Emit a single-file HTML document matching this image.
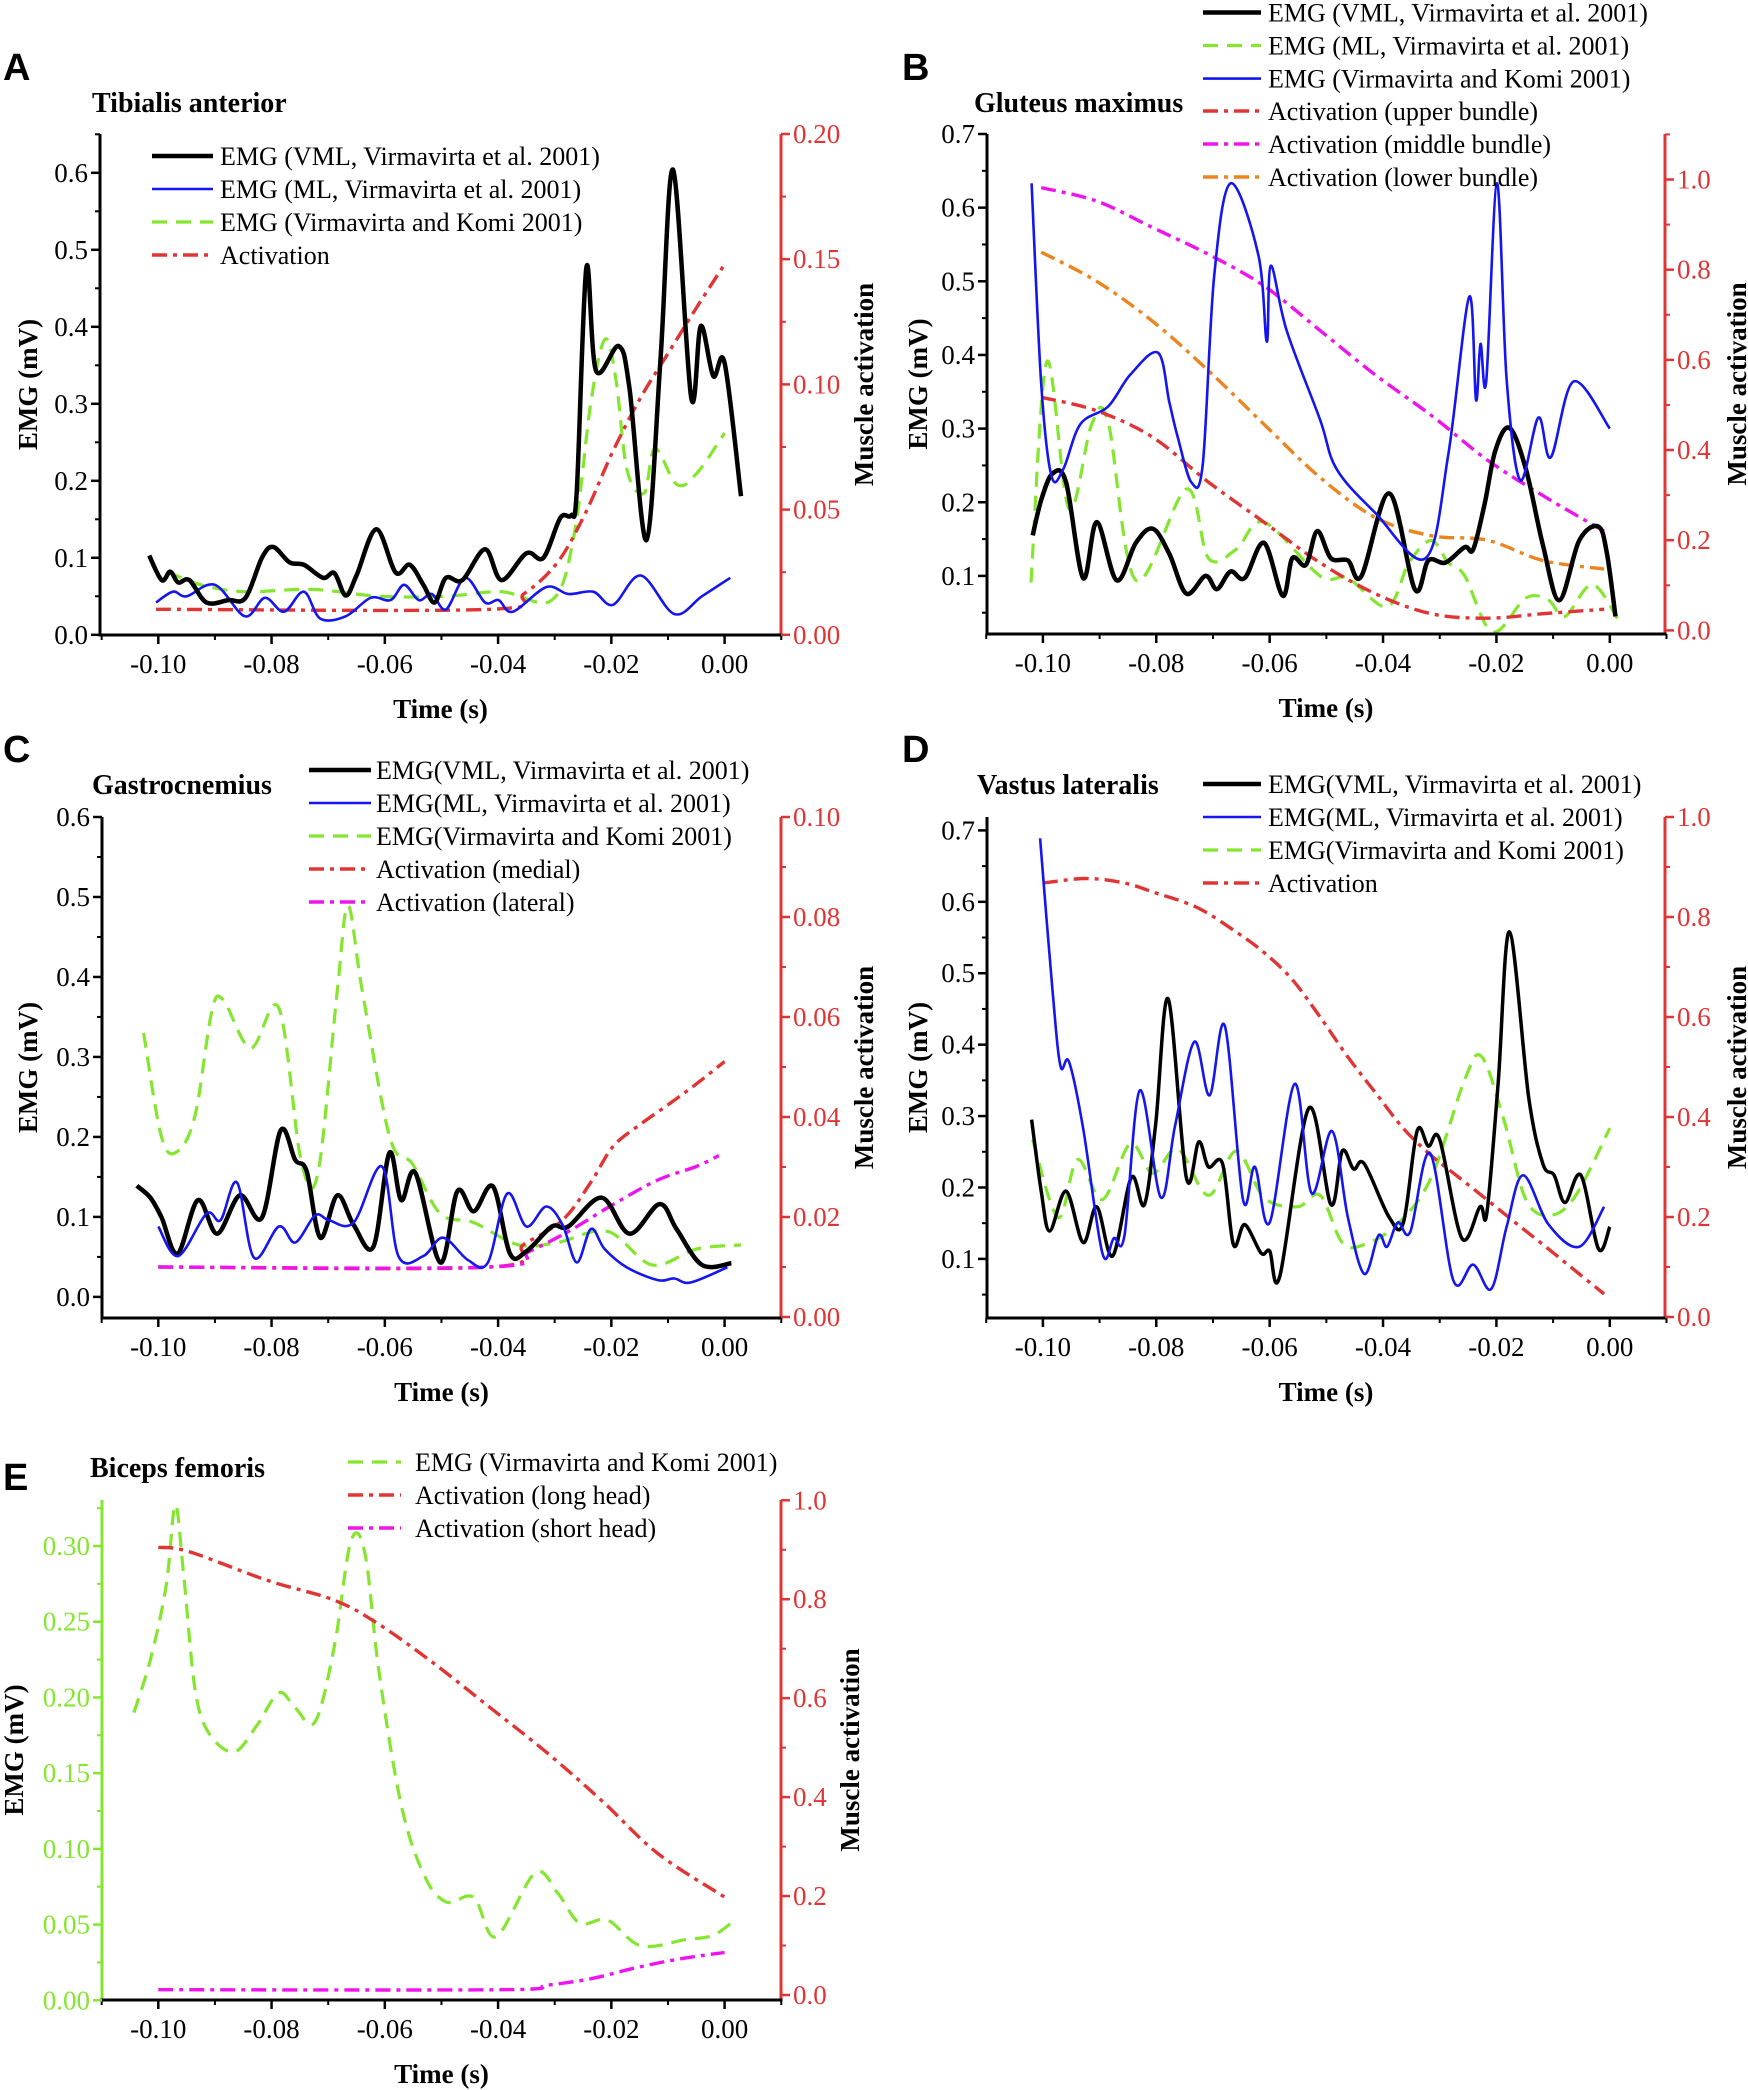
<!DOCTYPE html>
<html><head><meta charset="utf-8"><style>
html,body{margin:0;padding:0;background:#fff}
svg{display:block}
text{font-family:"Liberation Serif",serif}
</style></head><body>
<svg id="fig" width="1748" height="2090" viewBox="0 0 1748 2090" xmlns="http://www.w3.org/2000/svg"></svg>
<script>
// ---------- Panel A: Tibialis anterior ----------
const aVmlT=[-0.1016,-0.0994,-0.0979,-0.0965,-0.0945,-0.0915,-0.0876,-0.0846,-0.0817,-0.0797,-0.0768,-0.0743,-0.0709,-0.0689,-0.0669,-0.0650,-0.0615,-0.0581,-0.0556,-0.0532,-0.0512,-0.0492,-0.0463,-0.0423,-0.0394,-0.0350,-0.0320,-0.0290,-0.0271,-0.0261,-0.0244,-0.0227,-0.0187,-0.0168,-0.0138,-0.0113,-0.0091,-0.0059,-0.0042,-0.0020,0.0000,0.0029];
const aVmlV=[0.103,0.071,0.082,0.068,0.071,0.042,0.045,0.048,0.100,0.114,0.094,0.091,0.074,0.080,0.051,0.077,0.137,0.081,0.091,0.065,0.042,0.074,0.071,0.111,0.071,0.106,0.100,0.152,0.155,0.187,0.477,0.343,0.375,0.320,0.123,0.360,0.604,0.308,0.401,0.336,0.353,0.180];
const aMlT=[-0.1004,-0.0974,-0.095,-0.090,-0.0847,-0.0812,-0.0778,-0.0743,-0.0714,-0.0669,-0.0625,-0.059,-0.0566,-0.054,-0.0517,-0.0492,-0.0458,-0.0423,-0.0399,-0.0374,-0.0315,-0.0276,-0.0232,-0.0197,-0.0148,-0.0089,-0.004,0.0010];
const aMlV=[0.042,0.056,0.050,0.065,0.024,0.048,0.030,0.056,0.021,0.024,0.048,0.045,0.065,0.045,0.053,0.033,0.074,0.042,0.045,0.030,0.062,0.053,0.056,0.039,0.077,0.027,0.050,0.074];
const aVkT=[-0.0984,-0.0925,-0.0847,-0.0728,-0.061,-0.0492,-0.0394,-0.0305,-0.0266,-0.0236,-0.0211,-0.0192,-0.0172,-0.0142,-0.0123,-0.0084,-0.0049,0.000];
const aVkV=[0.082,0.065,0.056,0.059,0.050,0.050,0.056,0.045,0.129,0.303,0.384,0.332,0.213,0.184,0.242,0.195,0.210,0.262];
const aActT=[-0.1004,-0.0413,-0.0354,-0.0295,-0.0246,-0.0197,-0.0148,-0.0099,-0.005,0.000];
const aActV=[0.0102,0.0102,0.0164,0.0289,0.0485,0.0734,0.0948,0.1127,0.1305,0.148];
// ---------- Panel B: Gluteus maximus ----------
const bVmlT=[-0.1018,-0.1003,-0.0983,-0.0959,-0.0929,-0.0905,-0.087,-0.0836,-0.0806,-0.0777,-0.0747,-0.0713,-0.0693,-0.0669,-0.0644,-0.061,-0.0577,-0.056,-0.0536,-0.0516,-0.0492,-0.0462,-0.0438,-0.0389,-0.0344,-0.032,-0.029,-0.0256,-0.0241,-0.0221,-0.0202,-0.0177,-0.0148,-0.0118,-0.0089,-0.0054,-0.002,-0.0005,0.001];
const bVmlV=[0.155,0.203,0.239,0.227,0.097,0.173,0.094,0.145,0.164,0.130,0.076,0.100,0.082,0.106,0.097,0.145,0.073,0.124,0.115,0.161,0.124,0.121,0.100,0.212,0.082,0.121,0.118,0.139,0.136,0.197,0.270,0.301,0.245,0.142,0.067,0.148,0.167,0.130,0.045];
const bMlT=[-0.1021,-0.0993,-0.0954,-0.0914,-0.0885,-0.0836,-0.0747,-0.0708,-0.0659,-0.061,-0.0511,-0.0462,-0.0393,-0.0354,-0.0315,-0.0285,-0.0256,-0.0207,-0.0148,-0.0108,-0.0079,-0.003,0.002];
const bMlV=[0.091,0.391,0.191,0.306,0.309,0.094,0.218,0.124,0.136,0.173,0.100,0.097,0.058,0.118,0.148,0.118,0.100,0.024,0.070,0.067,0.045,0.088,0.033];
const bVkT=[-0.102,-0.1003,-0.0985,-0.0964,-0.0934,-0.0885,-0.0846,-0.0797,-0.0777,-0.0762,-0.0738,-0.0718,-0.0698,-0.0669,-0.062,-0.0605,-0.0598,-0.057,-0.0511,-0.0482,-0.0413,-0.0325,-0.0285,-0.0248,-0.0236,-0.0228,-0.0218,-0.0199,-0.0182,-0.0158,-0.0126,-0.0104,-0.0064,0.000];
const bVkV=[0.633,0.361,0.236,0.245,0.306,0.330,0.373,0.403,0.336,0.288,0.227,0.252,0.506,0.633,0.536,0.418,0.521,0.433,0.312,0.245,0.185,0.124,0.264,0.479,0.339,0.415,0.364,0.633,0.367,0.230,0.315,0.261,0.364,0.300];
const bActT=[-0.1003,-0.0905,-0.0806,-0.0708,-0.061,-0.0511,-0.0413,-0.0315,-0.0216,-0.0118,-0.001];
const bUpperV=[0.517,0.487,0.428,0.329,0.240,0.150,0.081,0.037,0.027,0.037,0.047];
const bMiddleV=[0.982,0.952,0.893,0.834,0.764,0.665,0.566,0.477,0.378,0.299,0.220];
const bLowerV=[0.839,0.774,0.685,0.576,0.457,0.339,0.250,0.210,0.200,0.155,0.136];
// ---------- Panel C: Gastrocnemius ----------
const cVmlT=[-0.1038,-0.1014,-0.0994,-0.0966,-0.093,-0.0896,-0.0856,-0.0817,-0.0784,-0.0758,-0.0738,-0.0714,-0.0684,-0.0655,-0.062,-0.0592,-0.0571,-0.0546,-0.0502,-0.0472,-0.0443,-0.0409,-0.0379,-0.035,-0.0305,-0.0276,-0.0217,-0.0168,-0.0115,-0.0085,-0.004,0.0012];
const cVmlV=[0.139,0.124,0.099,0.054,0.121,0.079,0.127,0.099,0.208,0.171,0.157,0.074,0.127,0.090,0.063,0.180,0.121,0.155,0.043,0.132,0.107,0.138,0.054,0.057,0.088,0.088,0.124,0.079,0.116,0.085,0.040,0.042];
const cMlT=[-0.1,-0.0965,-0.0915,-0.089,-0.0861,-0.0831,-0.0787,-0.0758,-0.0723,-0.0699,-0.0655,-0.0605,-0.0576,-0.0532,-0.0497,-0.0453,-0.0418,-0.0384,-0.035,-0.0315,-0.0286,-0.0261,-0.0236,-0.0212,-0.0173,-0.0118,-0.0089,-0.006,0.0005];
const cMlV=[0.088,0.051,0.104,0.096,0.143,0.049,0.088,0.068,0.102,0.096,0.093,0.163,0.051,0.051,0.074,0.046,0.043,0.129,0.088,0.113,0.090,0.043,0.085,0.060,0.037,0.021,0.023,0.018,0.037];
const cVkT=[-0.1026,-0.0994,-0.0966,-0.0935,-0.0906,-0.0886,-0.0837,-0.0787,-0.0748,-0.0718,-0.0684,-0.0665,-0.064,-0.0591,-0.0551,-0.0502,-0.0443,-0.0364,-0.0295,-0.0207,-0.0128,-0.0049,0.0029];
const cVkV=[0.330,0.199,0.182,0.227,0.355,0.372,0.311,0.361,0.171,0.155,0.383,0.489,0.383,0.199,0.166,0.104,0.093,0.065,0.068,0.082,0.040,0.060,0.065];
const cMedT=[-0.1,-0.0414,-0.0355,-0.0286,-0.0236,-0.0197,-0.0148,-0.0098,-0.005,0.0];
const cMedV=[0.010,0.010,0.0145,0.0194,0.027,0.0341,0.0386,0.0426,0.0466,0.0511];
const cLatT=[-0.1,-0.0414,-0.0345,-0.0276,-0.0197,-0.0118,-0.005,-0.001];
const cLatV=[0.010,0.010,0.0131,0.0171,0.0225,0.0274,0.0301,0.0323];
// ---------- Panel D: Vastus lateralis ----------
const dVmlT=[-0.102,-0.1003,-0.0988,-0.0959,-0.0929,-0.0905,-0.0877,-0.0844,-0.0821,-0.0801,-0.0779,-0.0747,-0.0725,-0.0708,-0.0683,-0.0664,-0.0644,-0.0615,-0.06,-0.0582,-0.0531,-0.0492,-0.0472,-0.0452,-0.0433,-0.0389,-0.0364,-0.034,-0.032,-0.03,-0.0261,-0.0229,-0.0217,-0.0197,-0.0177,-0.0143,-0.0118,-0.0098,-0.0079,-0.0051,-0.002,0.0];
const dVmlV=[0.295,0.195,0.139,0.195,0.123,0.173,0.104,0.214,0.176,0.289,0.464,0.214,0.264,0.229,0.233,0.120,0.148,0.108,0.111,0.076,0.311,0.176,0.251,0.226,0.233,0.158,0.151,0.279,0.258,0.267,0.129,0.173,0.164,0.345,0.558,0.326,0.233,0.217,0.179,0.217,0.114,0.145];
const dMlT=[-0.1005,-0.0983,-0.0969,-0.0954,-0.0929,-0.0895,-0.0875,-0.0856,-0.0829,-0.0792,-0.0767,-0.0733,-0.0706,-0.0679,-0.0647,-0.0626,-0.06,-0.0556,-0.0526,-0.049,-0.0462,-0.0433,-0.0408,-0.0393,-0.0374,-0.0352,-0.0317,-0.0276,-0.0241,-0.0209,-0.0182,-0.0153,-0.0108,-0.0054,-0.001];
const dMlV=[0.689,0.476,0.370,0.376,0.283,0.108,0.129,0.133,0.336,0.186,0.286,0.404,0.329,0.426,0.183,0.229,0.151,0.345,0.192,0.279,0.158,0.079,0.133,0.117,0.151,0.138,0.248,0.070,0.092,0.058,0.145,0.217,0.148,0.117,0.173];
const dVkT=[-0.1018,-0.0973,-0.0939,-0.0895,-0.0846,-0.0806,-0.0762,-0.0708,-0.0659,-0.061,-0.0551,-0.0511,-0.0472,-0.0433,-0.0374,-0.0315,-0.0256,-0.0226,-0.0187,-0.0148,-0.0104,-0.006,0.0];
const dVkV=[0.267,0.158,0.239,0.183,0.261,0.220,0.254,0.189,0.251,0.186,0.173,0.189,0.123,0.120,0.149,0.214,0.351,0.383,0.295,0.183,0.161,0.189,0.283];
const dActT=[-0.1,-0.0924,-0.0856,-0.0806,-0.0728,-0.0659,-0.061,-0.0561,-0.0511,-0.0462,-0.0413,-0.0364,-0.0315,-0.0266,-0.0216,-0.0167,-0.0118,-0.0069,-0.001];
const dActV=[0.868,0.877,0.868,0.850,0.819,0.770,0.729,0.676,0.600,0.520,0.448,0.377,0.323,0.279,0.234,0.189,0.145,0.100,0.046];
// ---------- Panel E: Biceps femoris ----------
const eVkT=[-0.1043,-0.1014,-0.0986,-0.097,-0.0955,-0.0935,-0.091,-0.0866,-0.0827,-0.0787,-0.0758,-0.0723,-0.0689,-0.066,-0.0635,-0.061,-0.0571,-0.0531,-0.0492,-0.0443,-0.0404,-0.0335,-0.0295,-0.0256,-0.0207,-0.0148,-0.007,-0.002,0.0018];
const eVkV=[0.190,0.225,0.274,0.327,0.280,0.205,0.176,0.164,0.181,0.203,0.193,0.184,0.234,0.303,0.295,0.216,0.129,0.083,0.065,0.068,0.042,0.084,0.071,0.051,0.053,0.036,0.040,0.043,0.053];
const eLongT=[-0.1,-0.0945,-0.0807,-0.0689,-0.061,-0.0512,-0.0413,-0.0315,-0.0217,-0.0118,0.0];
const eLongV=[0.905,0.896,0.838,0.798,0.749,0.669,0.580,0.491,0.393,0.286,0.198];
const eShortT=[-0.1,-0.0394,-0.0315,-0.0236,-0.0157,-0.0079,0.0];
const eShortV=[0.0107,0.0107,0.0196,0.033,0.055,0.073,0.086];
// ---------- Tick labels ----------
const xTickLabels=["-0.10","-0.08","-0.06","-0.04","-0.02","0.00"];
const xMinorTicks=[-0.11,-0.09,-0.07,-0.05,-0.03,-0.01,0.01];
const aLeftTicks=["0.0","0.1","0.2","0.3","0.4","0.5","0.6"];
const aRightTicks=["0.00","0.05","0.10","0.15","0.20"];
const bLeftTicks=["0.1","0.2","0.3","0.4","0.5","0.6","0.7"];
const bRightTicks=["0.0","0.2","0.4","0.6","0.8","1.0"];
const cLeftTicks=["0.0","0.1","0.2","0.3","0.4","0.5","0.6"];
const cRightTicks=["0.00","0.02","0.04","0.06","0.08","0.10"];
const dLeftTicks=["0.1","0.2","0.3","0.4","0.5","0.6","0.7"];
const dRightTicks=["0.0","0.2","0.4","0.6","0.8","1.0"];
const eLeftTicks=["0.00","0.05","0.10","0.15","0.20","0.25","0.30"];
const eRightTicks=["0.0","0.2","0.4","0.6","0.8","1.0"];

const NS="http://www.w3.org/2000/svg";
const svg=document.getElementById('fig');
function mk(tag,attrs,parent){const e=document.createElementNS(NS,tag);for(const k in attrs)e.setAttribute(k,attrs[k]);(parent||svg).appendChild(e);return e;}
const GREEN="#84E62E",RED="#E03535",BLUE="#1515F0",MAG="#EE14EE",ORG="#EC8420";
const STY={
 vml:{stroke:"#000","stroke-width":4.5},
 vmlThin:{stroke:"#000","stroke-width":3.5},
 ml:{stroke:BLUE,"stroke-width":2.6},
 vk:{stroke:GREEN,"stroke-width":3.2,"stroke-dasharray":"15,9"},
 red:{stroke:RED,"stroke-width":3.4,"stroke-dasharray":"15,6,4,6"},
 mag:{stroke:MAG,"stroke-width":3.4,"stroke-dasharray":"15,6,4,6"},
 org:{stroke:ORG,"stroke-width":3.4,"stroke-dasharray":"15,6,4,6"}
};
function lin(v0,p0,v1,p1){return v=>p0+(v-v0)*(p1-p0)/(v1-v0);}
function smoothPath(xs,ys){
 let d="M"+xs[0].toFixed(1)+","+ys[0].toFixed(1);
 for(let i=0;i<xs.length-1;i++){
  const i0=Math.max(0,i-1),i3=Math.min(xs.length-1,i+2);
  const c1x=xs[i]+(xs[i+1]-xs[i0])/6,c1y=ys[i]+(ys[i+1]-ys[i0])/6;
  const c2x=xs[i+1]-(xs[i3]-xs[i])/6,c2y=ys[i+1]-(ys[i3]-ys[i])/6;
  d+=" C"+c1x.toFixed(1)+","+c1y.toFixed(1)+" "+c2x.toFixed(1)+","+c2y.toFixed(1)+" "+xs[i+1].toFixed(1)+","+ys[i+1].toFixed(1);
 }
 return d;
}
function txt(g,x,y,s,attrs){const t=mk('text',Object.assign({x:x,y:y},attrs||{}),g);t.textContent=s;return t;}

function panel(cfg){
 const g=mk('g',{});
 
 
 const X=lin(-0.1,cfg.xa,0,cfg.xb);
 const YL=lin(cfg.yl[0],cfg.yl[1],cfg.yl[2],cfg.yl[3]);
 const YR=lin(cfg.yr[0],cfg.yr[1],cfg.yr[2],cfg.yr[3]);
 const lc=cfg.leftColor||"#000";
 cfg.series.forEach(s=>{
  const sc=s.axis==='r'?YR:YL;
  const p=mk('path',Object.assign({d:smoothPath(s.t.map(X),s.v.map(sc)),fill:"none","stroke-linejoin":"round","stroke-linecap":"butt"},STY[s.sty]),g);
  
  
 });
 const la=mk('line',{x1:cfg.L,y1:cfg.T,x2:cfg.L,y2:cfg.B+1.5,stroke:lc,"stroke-width":3},g);
 
 
 const ra=mk('line',{x1:cfg.R,y1:cfg.T,x2:cfg.R,y2:cfg.B+1.5,stroke:RED,"stroke-width":3},g);
 
 
 const ba=mk('line',{x1:cfg.L-1.5,y1:cfg.B,x2:cfg.R+1.5,y2:cfg.B,stroke:"#000","stroke-width":3},g);
 
 
 xTickLabels.forEach(l=>{const v=parseFloat(l),x=X(v);
  mk('line',{x1:x,y1:cfg.B,x2:x,y2:cfg.B+9,stroke:"#000","stroke-width":2.5},g);
  const t=txt(g,x,cfg.B+38,l,{"font-size":27,"text-anchor":"middle",fill:"#000"});
  
  
 });
 xMinorTicks.forEach(v=>{const x=X(v);mk('line',{x1:x,y1:cfg.B,x2:x,y2:cfg.B+5,stroke:"#000","stroke-width":2},g);});
 const lv=cfg.lt.map(parseFloat),lstep=lv[1]-lv[0];
 cfg.lt.forEach(l=>{const y=YL(parseFloat(l));
  mk('line',{x1:cfg.L-9,y1:y,x2:cfg.L,y2:y,stroke:lc,"stroke-width":2.5},g);
  const t=txt(g,cfg.L-12,y+9,l,{"font-size":27,"text-anchor":"end",fill:lc});
  
  
 });
 for(let v=lv[0]-lstep/2;v<lv[lv.length-1]+lstep;v+=lstep){const y=YL(v);if(y>cfg.T-1&&y<cfg.B-2)mk('line',{x1:cfg.L-5,y1:y,x2:cfg.L,y2:y,stroke:lc,"stroke-width":2},g);}
 const rv=cfg.rt.map(parseFloat),rstep=rv[1]-rv[0];
 cfg.rt.forEach(l=>{const y=YR(parseFloat(l));
  mk('line',{x1:cfg.R,y1:y,x2:cfg.R+9,y2:y,stroke:RED,"stroke-width":2.5},g);
  const t=txt(g,cfg.R+12,y+9,l,{"font-size":27,fill:RED});
  
  
 });
 for(let v=rv[0]+rstep/2;v<rv[rv.length-1]+rstep;v+=rstep){const y=YR(v);if(y>cfg.T-1&&y<cfg.B)mk('line',{x1:cfg.R,y1:y,x2:cfg.R+5,y2:y,stroke:RED,"stroke-width":2},g);}
 const xt=txt(g,(cfg.L+cfg.R)/2,cfg.B+83,"Time (s)",{"font-size":27,"font-weight":"bold","text-anchor":"middle"});
 
 
 const cy=(cfg.T+cfg.B)/2;
 const yt=txt(g,0,0,"EMG (mV)",{"font-size":27,"font-weight":"bold","text-anchor":"middle",transform:"translate("+(cfg.ylx+9)+","+cy+") rotate(-90)"});
 
 
 const rt=txt(g,0,0,"Muscle activation",{"font-size":27,"font-weight":"bold","text-anchor":"middle",transform:"translate("+(cfg.yrx+9)+","+cy+") rotate(-90)"});
 
 
 const tt=txt(g,cfg.tx,cfg.ty,cfg.title,{"font-size":28,"font-weight":"bold"});
 
 
 const pl=txt(g,cfg.px,cfg.py,cfg.letter,{"font-size":38,"font-weight":"bold",style:"font-family:'Liberation Sans',sans-serif"});
 
 
 cfg.legend.forEach((e,i)=>{const y=cfg.lgY[i];
  const ln=mk('line',Object.assign({x1:cfg.lgX[0],y1:y,x2:cfg.lgX[1],y2:y},STY[e[1]]),g);
  
  
  const t=txt(g,cfg.lgX[2],y+9,e[0],{"font-size":26});
  
  
 });
}

panel({id:'tibialis',letter:'A',px:3,py:80,title:'Tibialis anterior',tx:92,ty:112,L:100,R:781,T:134,B:635,xa:158.3,xb:724.6,yl:[0,634.8,0.6,172.8],yr:[0,634.8,0.2,134],lt:aLeftTicks,rt:aRightTicks,ylx:28,yrx:864,
 series:[{name:'vk',t:aVkT,v:aVkV,sty:'vk'},{name:'act',t:aActT,v:aActV,sty:'red',axis:'r'},{name:'ml',t:aMlT,v:aMlV,sty:'ml'},{name:'vml',t:aVmlT,v:aVmlV,sty:'vml'}],
 legend:[["EMG (VML, Virmavirta et al. 2001)",'vml'],["EMG (ML, Virmavirta et al. 2001)",'ml'],["EMG (Virmavirta and Komi 2001)",'vk'],["Activation",'red']],lgX:[152,213,220],lgY:[156,189,222,255]});
panel({id:'gluteus',letter:'B',px:902,py:80,title:'Gluteus maximus',tx:974,ty:112,L:987,R:1665,T:134,B:634,xa:1042.9,xb:1609.8,yl:[0.1,575.9,0.7,134],yr:[0,630.4,1,179.5],lt:bLeftTicks,rt:bRightTicks,ylx:918,yrx:1737,
 series:[{name:'ml',t:bMlT,v:bMlV,sty:'vk'},{name:'upper',t:bActT,v:bUpperV,sty:'red',axis:'r'},{name:'middle',t:bActT,v:bMiddleV,sty:'mag',axis:'r'},{name:'lower',t:bActT,v:bLowerV,sty:'org',axis:'r'},{name:'vml',t:bVmlT,v:bVmlV,sty:'vml'},{name:'vk',t:bVkT,v:bVkV,sty:'ml'}],
 legend:[["EMG (VML, Virmavirta et al. 2001)",'vml'],["EMG (ML, Virmavirta et al. 2001)",'vk'],["EMG (Virmavirta and Komi 2001)",'ml'],["Activation (upper bundle)",'red'],["Activation (middle bundle)",'mag'],["Activation (lower bundle)",'org']],lgX:[1203,1261,1268],lgY:[12.5,45.5,78.6,111,144,177]});
panel({id:'gastrocnemius',letter:'C',px:3,py:762,title:'Gastrocnemius',tx:92,ty:794,L:102,R:781,T:817,B:1318,xa:158.3,xb:724.6,yl:[0,1296.9,0.6,817],yr:[0,1317,0.1,817],lt:cLeftTicks,rt:cRightTicks,ylx:28,yrx:864,
 series:[{name:'vk',t:cVkT,v:cVkV,sty:'vk'},{name:'medial',t:cMedT,v:cMedV,sty:'red',axis:'r'},{name:'lateral',t:cLatT,v:cLatV,sty:'mag',axis:'r'},{name:'vml',t:cVmlT,v:cVmlV,sty:'vml'},{name:'ml',t:cMlT,v:cMlV,sty:'ml'}],
 legend:[["EMG(VML, Virmavirta et al. 2001)",'vml'],["EMG(ML, Virmavirta et al. 2001)",'ml'],["EMG(Virmavirta and Komi 2001)",'vk'],["Activation (medial)",'red'],["Activation (lateral)",'mag']],lgX:[309,371,376],lgY:[770,803,836,869,902]});
panel({id:'vastus',letter:'D',px:902,py:762,title:'Vastus lateralis',tx:977,ty:794,L:987,R:1665,T:817,B:1318,xa:1042.9,xb:1609.8,yl:[0.1,1258.9,0.7,830.4],yr:[0,1317,1,817],lt:dLeftTicks,rt:dRightTicks,ylx:918,yrx:1737,
 series:[{name:'vk',t:dVkT,v:dVkV,sty:'vk'},{name:'act',t:dActT,v:dActV,sty:'red',axis:'r'},{name:'vml',t:dVmlT,v:dVmlV,sty:'vmlThin'},{name:'ml',t:dMlT,v:dMlV,sty:'ml'}],
 legend:[["EMG(VML, Virmavirta et al. 2001)",'vml'],["EMG(ML, Virmavirta et al. 2001)",'ml'],["EMG(Virmavirta and Komi 2001)",'vk'],["Activation",'red']],lgX:[1203,1261,1268],lgY:[784,817,850,883]});
panel({id:'biceps',letter:'E',px:3,py:1490,title:'Biceps femoris',tx:90,ty:1477,L:102,R:781,T:1500,B:2000,xa:158.3,xb:724.6,yl:[0,2000.3,0.3,1546],yr:[0,1995,1,1500.3],lt:eLeftTicks,rt:eRightTicks,ylx:14,yrx:850,leftColor:GREEN,
 series:[{name:'vk',t:eVkT,v:eVkV,sty:'vk'},{name:'long',t:eLongT,v:eLongV,sty:'red',axis:'r'},{name:'short',t:eShortT,v:eShortV,sty:'mag',axis:'r'}],
 legend:[["EMG (Virmavirta and Komi 2001)",'vk'],["Activation (long head)",'red'],["Activation (short head)",'mag']],lgX:[348,401,415],lgY:[1462,1495,1528]});
</script>
</body></html>
